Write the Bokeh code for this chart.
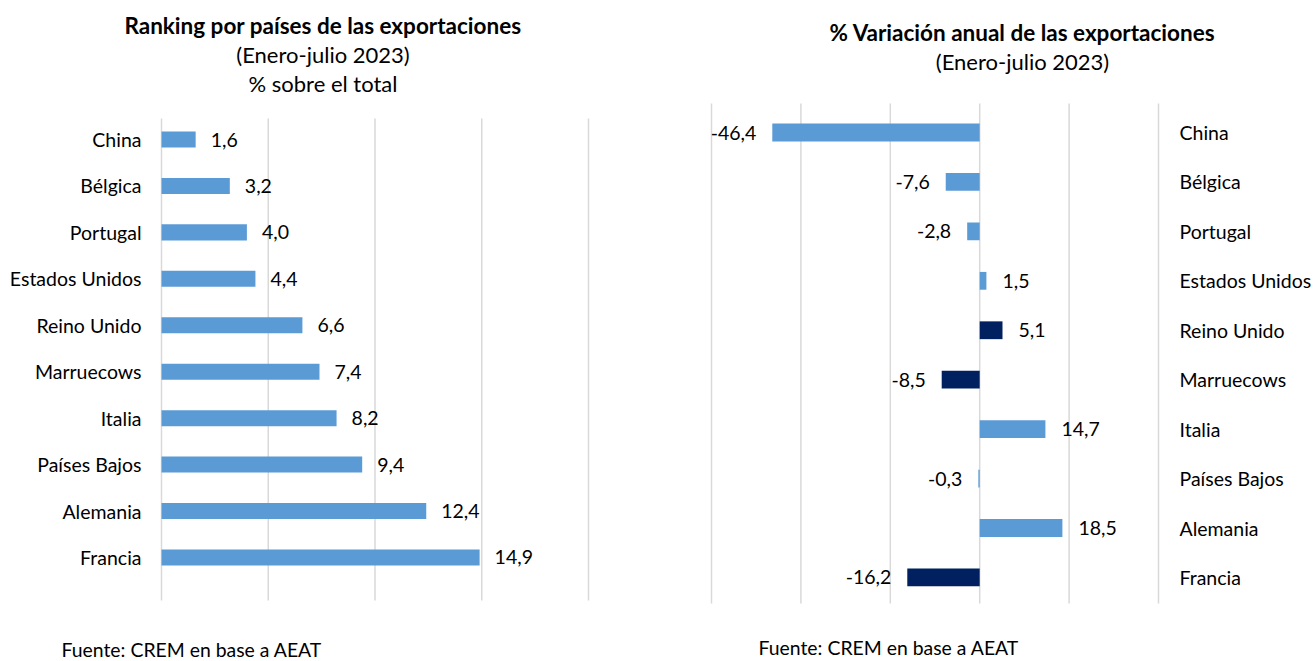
from bokeh.plotting import figure
from bokeh.models import Range1d, Label, ColumnDataSource
from bokeh.layouts import row
from bokeh.embed import file_html
from bokeh.resources import INLINE
from bokeh.core.properties import value

# ---- data ----
countries = ["China", "Bélgica", "Portugal", "Estados Unidos", "Reino Unido",
             "Marruecows", "Italia", "Países Bajos", "Alemania", "Francia"]
share = [1.6, 3.2, 4.0, 4.4, 6.6, 7.4, 8.2, 9.4, 12.4, 14.9]
variation = [-46.4, -7.6, -2.8, 1.5, 5.1, -8.5, 14.7, -0.3, 18.5, -16.2]
highlight = [False, False, False, False, True, True, False, False, False, True]
left_ticks = [0, 5, 10, 15, 20]
right_ticks = [-60, -40, -20, 0, 20, 40]
left_title = ["Ranking por países de las exportaciones", "(Enero-julio 2023)", "% sobre el total"]
right_title = ["% Variación anual de las exportaciones", "(Enero-julio 2023)"]
source_text = "Fuente: CREM en base a AEAT"

# ---- styling / layout (pixels) ----
FONT = "Lato"
FS = "19.5px"
TITLE_BOLD_FS = "22.5px"
TITLE_FS = "22px"
SRC_FS = "19.4px"
LIGHT = "#5B9BD5"
DARK = "#002060"
GRID = "#D9D9D9"
TXT = "#000000"
H = 660
W1, W2 = 658, 654


def fmt(v):
    return f"{v:.1f}".replace(".", ",")


def make_fig(width, x_px0, x_px1, x0, x1, row0_px, row_step_px):
    kx = (x_px1 - x_px0) / (x1 - x0)
    xr = Range1d(x0 - x_px0 / kx, x0 + (width - x_px0) / kx)
    yr = Range1d(start=(H - row0_px) / row_step_px, end=-row0_px / row_step_px)
    p = figure(width=width, height=H, output_backend="svg", toolbar_location=None,
               x_range=xr, y_range=yr, x_axis_location=None, y_axis_location=None,
               min_border=0, title=None)
    p.min_border_left = p.min_border_right = p.min_border_top = p.min_border_bottom = 0
    p.outline_line_color = None
    p.grid.visible = False
    return p


def add_grid(p, ticks, top_px, bottom_px, row0_px, row_step_px):
    y_top = (top_px - row0_px) / row_step_px
    y_bot = (bottom_px - row0_px) / row_step_px
    p.segment(x0=ticks, x1=ticks, y0=[y_top] * len(ticks), y1=[y_bot] * len(ticks),
              line_color=GRID, line_width=1.5)


def add_text_label(p, txt, x, baseline, size, bold=False, align="center"):
    p.add_layout(Label(x=x, y=H - baseline, x_units="screen", y_units="screen", text=txt,
                       text_align=align, text_baseline="alphabetic",
                       text_font=FONT, text_font_size=size,
                       text_font_style="bold" if bold else "normal", text_color=TXT))


ys = list(range(len(countries)))

# ---- left chart ----
ROW0_L, STEP_L = 139, 46.44
p1 = make_fig(W1, 161, 588, 0, 20, ROW0_L, STEP_L)
add_grid(p1, left_ticks, 118, 600, ROW0_L, STEP_L)

src1 = ColumnDataSource(dict(y=ys, v=share, lab=[fmt(v) for v in share],
                             name=countries, zero=[0] * len(ys)))
p1.hbar(y="y", left=0, right="v", height=0.345, source=src1, fill_color=LIGHT, line_color=None)
p1.text(x="v", y="y", text="lab", source=src1, x_offset=15, y_offset=0,
        text_align="left", text_baseline="middle",
        text_font=value(FONT), text_font_size=FS, text_color=TXT)
p1.text(x="zero", y="y", text="name", source=src1, x_offset=-20, y_offset=0,
        text_align="right", text_baseline="middle",
        text_font=value(FONT), text_font_size=FS, text_color=TXT)

add_text_label(p1, left_title[0], 322.5, 25, TITLE_BOLD_FS, bold=True)
add_text_label(p1, left_title[1], 322.5, 54, TITLE_FS)
add_text_label(p1, left_title[2], 322.5, 83, TITLE_FS)
add_text_label(p1, source_text, 61, 649, SRC_FS, align="left")

# ---- right chart ----
OFF = W1
ROW0_R, STEP_R = 132, 49.44
p2 = make_fig(W2, 711 - OFF, 1158 - OFF, -60, 40, ROW0_R, STEP_R)
add_grid(p2, right_ticks, 103, 603, ROW0_R, STEP_R)

colors = [DARK if h else LIGHT for h in highlight]
src2 = ColumnDataSource(dict(y=ys, v=variation, c=colors, name=countries,
                             edge=[right_ticks[-1]] * len(ys)))
p2.hbar(y="y", left=0, right="v", height=0.36, source=src2, fill_color="c", line_color=None)
p2.text(x="edge", y="y", text="name", source=src2, x_offset=21, y_offset=0,
        text_align="left", text_baseline="middle",
        text_font=value(FONT), text_font_size=FS, text_color=TXT)

pos = [i for i, v in enumerate(variation) if v >= 0]
neg = [i for i, v in enumerate(variation) if v < 0]
srcp = ColumnDataSource(dict(y=[ys[i] for i in pos], v=[variation[i] for i in pos],
                             lab=[fmt(variation[i]) for i in pos]))
srcn = ColumnDataSource(dict(y=[ys[i] for i in neg], v=[variation[i] for i in neg],
                             lab=[fmt(variation[i]) for i in neg]))
p2.text(x="v", y="y", text="lab", source=srcp, x_offset=16, y_offset=0,
        text_align="left", text_baseline="middle",
        text_font=value(FONT), text_font_size=FS, text_color=TXT)
p2.text(x="v", y="y", text="lab", source=srcn, x_offset=-16, y_offset=0,
        text_align="right", text_baseline="middle",
        text_font=value(FONT), text_font_size=FS, text_color=TXT)

add_text_label(p2, right_title[0], 1022 - OFF, 32, TITLE_BOLD_FS, bold=True)
add_text_label(p2, right_title[1], 1022 - OFF, 61, TITLE_FS)
add_text_label(p2, source_text, 758 - OFF, 647, SRC_FS, align="left")

layout = row(p1, p2)
open("out.html", "w").write(file_html(layout, INLINE))
